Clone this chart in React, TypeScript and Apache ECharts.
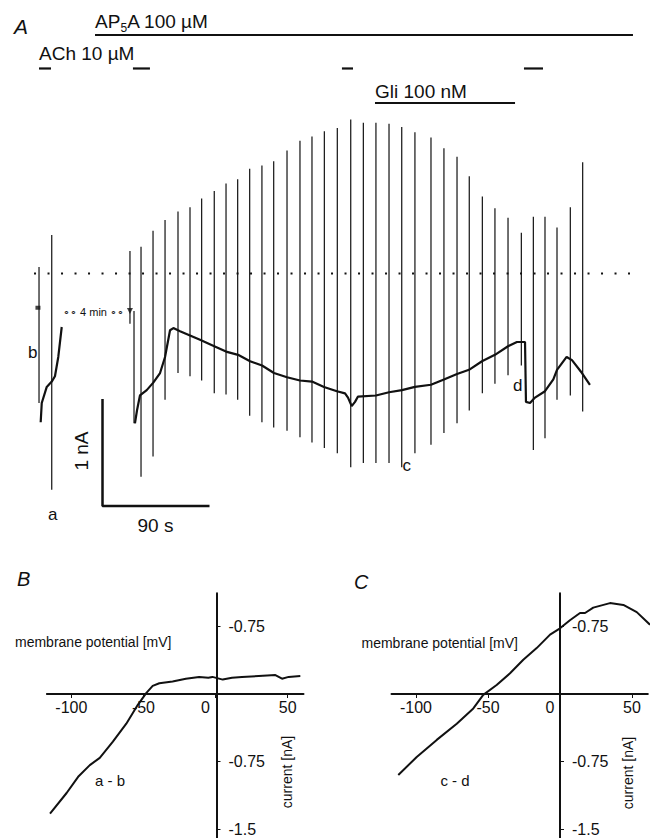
import React, { useEffect, useRef } from 'react';
import * as echarts from 'echarts';

// ---------- Panel A data (time in s, current in nA) ----------
// voltage-ramp deflections: time, upper end, lower end
const rampTimes = [16.0, 26.7, 92.5, 95.9, 101.8, 111.9, 122.0, 132.9, 143.0, 152.8, 163.4, 173.3, 183.1, 193.2, 203.5, 213.4, 224.6, 235.5, 245.6, 256.0, 266.9, 278.2, 288.8, 299.4, 310.4, 321.1, 332.2, 345.7, 356.6, 367.6, 377.9, 388.9, 399.5, 410.5, 421.7, 431.8, 441.6, 451.7, 462.9, 473.3];
const rampTop = [0.06, 0.36, 0.21, -0.35, 0.25, 0.40, 0.50, 0.58, 0.62, 0.70, 0.77, 0.84, 0.88, 0.98, 1.01, 1.05, 1.15, 1.24, 1.28, 1.33, 1.36, 1.44, 1.41, 1.41, 1.40, 1.37, 1.32, 1.27, 1.17, 1.09, 0.91, 0.72, 0.61, 0.52, 0.38, 0.53, 0.53, 0.43, 0.62, 1.04];
const rampBottom = [-1.21, -2.02, -0.47, -1.40, -1.90, -1.71, -1.18, -0.93, -0.96, -1.00, -1.12, -1.13, -1.18, -1.33, -1.39, -1.44, -1.47, -1.53, -1.58, -1.63, -1.68, -1.81, -1.77, -1.77, -1.77, -1.81, -1.68, -1.60, -1.49, -1.40, -1.28, -1.12, -1.03, -0.95, -0.86, -1.65, -1.54, -1.18, -1.14, -1.29];

// holding current trace (main recording)
const traceT = [96.7, 98.4, 100.9, 106.6, 112.1, 117.8, 122.0, 126.2, 129.0, 134.6, 143.0, 151.4, 163.4, 173.3, 183.4, 193.5, 203.6, 213.6, 224.6, 235.5, 245.6, 255.7, 266.6, 273.4, 275.9, 279.0, 281.8, 284.3, 299.4, 310.4, 321.3, 332.2, 345.7, 356.6, 367.6, 377.7, 388.6, 399.5, 410.5, 418.0, 424.8, 425.6, 429.0, 433.2, 441.6, 448.6, 451.7, 459.8, 464.3, 472.7, 479.4];
const traceI = [-1.40, -1.28, -1.14, -1.09, -1.02, -0.93, -0.78, -0.53, -0.51, -0.54, -0.58, -0.62, -0.68, -0.73, -0.76, -0.82, -0.86, -0.93, -0.97, -1.00, -1.01, -1.06, -1.10, -1.12, -1.16, -1.24, -1.20, -1.15, -1.14, -1.11, -1.09, -1.06, -1.04, -0.99, -0.94, -0.90, -0.82, -0.76, -0.68, -0.64, -0.64, -1.20, -1.21, -1.16, -1.10, -0.99, -0.90, -0.78, -0.81, -0.93, -1.04];

// first (pre-break) recording segment
const leftT = [17.4, 18.3, 22.5, 26.7, 29.4, 32.2, 35.1];
const leftI = [-1.39, -1.21, -1.06, -1.01, -0.96, -0.78, -0.50];

// "4 min" break markers
const breakT = [15.1, 92.5];
const breakI = [-0.32, -0.35];

// zero-current level extent (s)
const zeroLineT = [11.8, 513.1];

// drug application periods (s)
const ap5aPeriod = [63.1, 515.6];
const achPeriods = [[16.0, 26.1], [95.0, 109.3], [270.8, 280.1], [423.9, 439.9]];
const gliPeriod = [298.6, 416.4];

// scale bar: 90 s x 1 nA
const scaleBarT = [69.4, 159.4];
const scaleBarI = [-1.173, -2.173];

// ---------- Panel B / C: I–V relations (mV, nA) ----------
const ivVoltB = [-114.8, -103.3, -95.3, -87.2, -80.3, -71.2, -61.9, -53.9, -48.1, -43.6, -39.0, -29.8, -20.6, -11.4, -5.0, -2.2, 5.0, 11.4, 18.3, 30.0, 41.5, 46.1, 50.7, 58.8];
const ivCurB = [-1.33, -1.10, -0.92, -0.79, -0.71, -0.53, -0.33, -0.12, 0.01, 0.09, 0.12, 0.14, 0.17, 0.19, 0.18, 0.19, 0.16, 0.18, 0.19, 0.20, 0.21, 0.17, 0.19, 0.20];
const ivVoltC = [-112.3, -99.5, -85.6, -71.7, -60.2, -53.3, -44.0, -34.7, -25.5, -16.2, -6.9, 0, 6.9, 13.9, 17.4, 23.1, 34.7, 44.0, 53.3, 62.5];
const ivCurC = [-0.90, -0.70, -0.51, -0.33, -0.16, -0.01, 0.10, 0.23, 0.38, 0.51, 0.66, 0.73, 0.82, 0.90, 0.90, 0.96, 1.01, 0.99, 0.91, 0.77];

const voltTicks = [-100, -50, 0, 50];
const curTicks = [0.75, -0.75, -1.5];

// ---------- layout ----------
const FONT = '"Liberation Sans", Arial, Helvetica, sans-serif';
const INK = '#111';
const AP5A_LEVEL = 2.229;
const ACH_LEVEL = 1.916;
const GLI_LEVEL = 1.593;

const zip = (a: number[], b: number[]) => a.map((v, i) => [v, b[i]]);

function segV(params: any, api: any) {
  const p1 = api.coord([api.value(0), api.value(1)]);
  const p2 = api.coord([api.value(0), api.value(2)]);
  return { type: 'line', shape: { x1: p1[0], y1: p1[1], x2: p2[0], y2: p2[1] }, style: { stroke: INK, lineWidth: 1.2 } };
}
function segH(width: number) {
  return (params: any, api: any) => {
    const p1 = api.coord([api.value(0), api.value(2)]);
    const p2 = api.coord([api.value(1), api.value(2)]);
    return { type: 'line', shape: { x1: p1[0], y1: p1[1], x2: p2[0], y2: p2[1] }, style: { stroke: INK, lineWidth: width } };
  };
}

function ivXAxis(gridIndex: number, offset: number) {
  return {
    type: 'value', gridIndex, min: -117, max: 61, position: 'bottom', offset,
    axisLine: { show: true, onZero: false, lineStyle: { color: INK, width: 2 } },
    axisTick: { show: true, length: 4, customValues: voltTicks, lineStyle: { color: INK, width: 1 } },
    axisLabel: {
      show: true, customValues: voltTicks, margin: 5, fontSize: 16, fontFamily: FONT, color: INK,
      formatter: (v: number) => (v === 0 ? '{z|0}' : String(v)),
      rich: { z: { padding: [0, 20, 0, 0], fontSize: 16, fontFamily: FONT, color: INK } },
    },
    splitLine: { show: false },
  };
}
function ivYAxis(gridIndex: number, offset: number) {
  return {
    type: 'value', gridIndex, min: -1.7, max: 1.12, position: 'right', offset,
    axisLine: { show: true, onZero: false, lineStyle: { color: INK, width: 2 } },
    axisTick: { show: true, length: 4, customValues: curTicks, lineStyle: { color: INK, width: 1 } },
    axisLabel: {
      show: true, customValues: curTicks, margin: 12, fontSize: 16, fontFamily: FONT, color: INK,
      formatter: (v: number) => (v > 0 ? '-0.75' : String(v)),
    },
    splitLine: { show: false },
  };
}

function txt(text: string, x: number, y: number, size: number, extra: any = {}) {
  return {
    type: 'text', x, y, rotation: extra.rotation || 0,
    style: {
      text, fill: INK, font: `${extra.italic ? 'italic ' : ''}${size}px ${FONT}`,
      align: extra.align || 'left', verticalAlign: 'middle',
    },
  };
}

function buildOption() {
  return {
    animation: false,
    backgroundColor: '#fff',
    grid: [
      { left: 20, top: 0, width: 618.2, height: 514.25, outerBoundsMode: 'none', containLabel: false },
      { left: 46.85, top: 593.2, width: 256.65, height: 253.8, outerBoundsMode: 'none', containLabel: false },
      { left: 391.52, top: 593.2, width: 256.32, height: 253.8, outerBoundsMode: 'none', containLabel: false },
    ],
    xAxis: [
      { type: 'value', gridIndex: 0, min: 0, max: 520, show: false },
      ivXAxis(1, -153),
      ivXAxis(2, -153),
    ],
    yAxis: [
      { type: 'value', gridIndex: 0, min: -2.25, max: 2.55607, show: false },
      ivYAxis(1, -87),
      ivYAxis(2, -87.84),
    ],
    series: [
      {
        type: 'line', xAxisIndex: 0, yAxisIndex: 0, symbol: 'none', silent: true,
        data: zeroLineT.map((t) => [t, 0]),
        lineStyle: { color: INK, width: 2, type: [2, 11.5] },
      },
      {
        type: 'custom', xAxisIndex: 0, yAxisIndex: 0, renderItem: segV, silent: true,
        encode: { x: 0, y: [1, 2] },
        data: rampTimes.map((t, i) => [t, rampTop[i], rampBottom[i]]),
      },
      {
        type: 'line', xAxisIndex: 0, yAxisIndex: 0, symbol: 'none', silent: true,
        data: zip(traceT, traceI), lineStyle: { color: INK, width: 2.2 },
      },
      {
        type: 'line', xAxisIndex: 0, yAxisIndex: 0, symbol: 'none', silent: true,
        data: zip(leftT, leftI), lineStyle: { color: INK, width: 2.2 },
      },
      {
        type: 'scatter', xAxisIndex: 0, yAxisIndex: 0, silent: true,
        itemStyle: { color: INK },
        data: [
          { value: [breakT[0], breakI[0]], symbol: 'rect', symbolSize: [5, 4] },
          { value: [breakT[1], breakI[1]], symbol: 'triangle', symbolRotate: 180, symbolSize: [6, 6] },
        ],
      },
      {
        type: 'custom', xAxisIndex: 0, yAxisIndex: 0, renderItem: segH(2), silent: true,
        encode: { x: [0, 1], y: 2 },
        data: [[ap5aPeriod[0], ap5aPeriod[1], AP5A_LEVEL], [gliPeriod[0], gliPeriod[1], GLI_LEVEL]],
      },
      {
        type: 'custom', xAxisIndex: 0, yAxisIndex: 0, renderItem: segH(2.2), silent: true,
        encode: { x: [0, 1], y: 2 },
        data: achPeriods.map((p) => [p[0], p[1], ACH_LEVEL]),
      },
      {
        type: 'line', xAxisIndex: 0, yAxisIndex: 0, symbol: 'none', silent: true,
        data: [[scaleBarT[0], scaleBarI[0]], [scaleBarT[0], scaleBarI[1]], [scaleBarT[1], scaleBarI[1]]],
        lineStyle: { color: INK, width: 2.5 },
      },
      {
        type: 'line', xAxisIndex: 1, yAxisIndex: 1, symbol: 'none', silent: true, clip: false,
        data: zip(ivVoltB, ivCurB), lineStyle: { color: INK, width: 2 },
      },
      {
        type: 'line', xAxisIndex: 2, yAxisIndex: 2, symbol: 'none', silent: true, clip: false,
        data: zip(ivVoltC, ivCurC), lineStyle: { color: INK, width: 2 },
      },
    ],
    graphic: [
      txt('A', 14, 26, 21, { italic: true }),
      txt('AP', 95, 21.7, 19),
      txt('5', 120.5, 27.5, 12),
      txt('A 100 µM', 127.2, 21.7, 19),
      txt('ACh 10 µM', 39, 53.3, 19),
      txt('Gli 100 nM', 375, 91.2, 19),
      txt('∘∘ 4 min ∘∘', 63, 311.5, 11),
      txt('b', 28, 352.5, 17),
      txt('a', 48, 514, 17),
      txt('c', 402.5, 465.5, 17),
      txt('d', 513, 385.5, 17),
      txt('1 nA', 81, 451, 19, { rotation: Math.PI / 2, align: 'center' }),
      txt('90 s', 155.5, 525, 19, { align: 'center' }),
      txt('B', 17, 578.5, 20, { italic: true }),
      txt('C', 354, 581.5, 20, { italic: true }),
      txt('membrane potential [mV]', 15, 642, 14),
      txt('membrane potential [mV]', 361.5, 643, 14),
      txt('current [nA]', 287, 772, 14, { rotation: Math.PI / 2, align: 'center' }),
      txt('current [nA]', 628, 773, 14, { rotation: Math.PI / 2, align: 'center' }),
      txt('a - b', 110, 780, 15, { align: 'center' }),
      txt('c - d', 455, 780, 15, { align: 'center' }),
    ],
  };
}

export default function App() {
  const ref = useRef<HTMLDivElement>(null);
  useEffect(() => {
    document.body.style.margin = '0';
    const chart = echarts.init(ref.current as HTMLDivElement, null, { renderer: 'svg' });
    chart.setOption(buildOption() as any);
    return () => chart.dispose();
  }, []);
  return <div ref={ref} style={{ width: 651, height: 838, background: '#fff' }} />;
}
